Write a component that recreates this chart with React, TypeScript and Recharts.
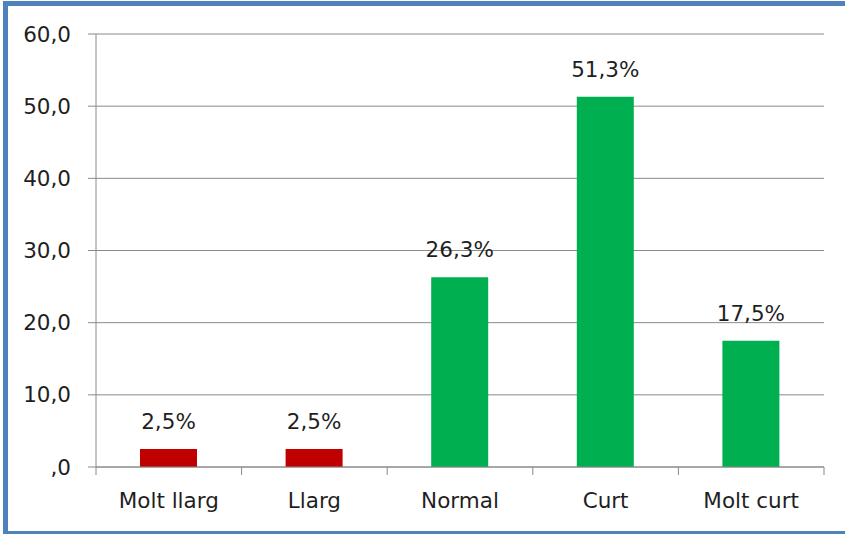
import React from "react";
import { BarChart, Bar, XAxis, YAxis, CartesianGrid, Cell, LabelList } from "recharts";

const categories = ["Molt llarg", "Llarg", "Normal", "Curt", "Molt curt"];
const values = [2.5, 2.5, 26.3, 51.3, 17.5];
const barColors = ["#C00000", "#C00000", "#00B050", "#00B050", "#00B050"];
const yTicks = [0, 10, 20, 30, 40, 50, 60];

const data = categories.map((name, i) => ({ name, value: values[i] }));

const FONT = "'DejaVu Sans', sans-serif";
const FS = 21.5;
const TEXT = "#1f1f1f";
const GRID = "#8a8a8a";

const fmtY = (v: number) => (v === 0 ? ",0" : v.toFixed(1).replace(".", ","));
const fmtLabel = (v: number) => v.toFixed(1).replace(".", ",") + "%";

const PLOT_LEFT = 96;
const PLOT_RIGHT = 824;
const BAND = (PLOT_RIGHT - PLOT_LEFT) / categories.length;

const XTick = (props: any) => {
  const { x, y, payload, index } = props;
  const half = BAND / 2;
  return (
    <g>
      <line x1={x - half} y1={y} x2={x - half} y2={y + 8} stroke={GRID} strokeWidth={1} />
      {index === categories.length - 1 && (
        <line x1={x + half} y1={y} x2={x + half} y2={y + 8} stroke={GRID} strokeWidth={1} />
      )}
      <text x={x} y={y + 41} textAnchor="middle" fill={TEXT} fontSize={FS} fontFamily={FONT}>
        {payload.value}
      </text>
    </g>
  );
};

export default function App() {
  return (
    <div
      style={{
        position: "fixed",
        left: 0,
        top: 0,
        width: 845,
        height: 534,
        overflow: "hidden",
        background: "#fff",
      }}
    >
      <div
        style={{
          position: "absolute",
          left: 3,
          top: 1,
          width: 900,
          height: 525,
          border: "5px solid #4F81BD",
        }}
      />
      <div style={{ position: "absolute", left: 0, top: 0 }}>
        <BarChart
          width={845}
          height={534}
          data={data}
          margin={{ top: 34, right: 845 - PLOT_RIGHT, bottom: 0, left: 0 }}
          barSize={57}
        >
          <CartesianGrid horizontal={true} vertical={false} stroke={GRID} strokeWidth={1} />
          <XAxis
            dataKey="name"
            height={67}
            axisLine={{ stroke: GRID, strokeWidth: 1 }}
            tickLine={false}
            tickSize={0}
            tickMargin={0}
            interval={0}
            tick={<XTick />}
          />
          <YAxis
            width={PLOT_LEFT}
            domain={[0, 60]}
            ticks={yTicks}
            tickFormatter={fmtY}
            axisLine={{ stroke: GRID, strokeWidth: 1 }}
            tickLine={{ stroke: GRID, strokeWidth: 1 }}
            tickSize={8}
            tickMargin={17}
            tick={{ fill: TEXT, fontSize: FS, fontFamily: FONT }}
          />
          <Bar dataKey="value" isAnimationActive={false}>
            {data.map((d, i) => (
              <Cell key={d.name} fill={barColors[i]} />
            ))}
            <LabelList
              dataKey="value"
              position="top"
              offset={20}
              formatter={fmtLabel}
              fill={TEXT}
              fontSize={FS}
              fontFamily={FONT}
            />
          </Bar>
        </BarChart>
      </div>
    </div>
  );
}
